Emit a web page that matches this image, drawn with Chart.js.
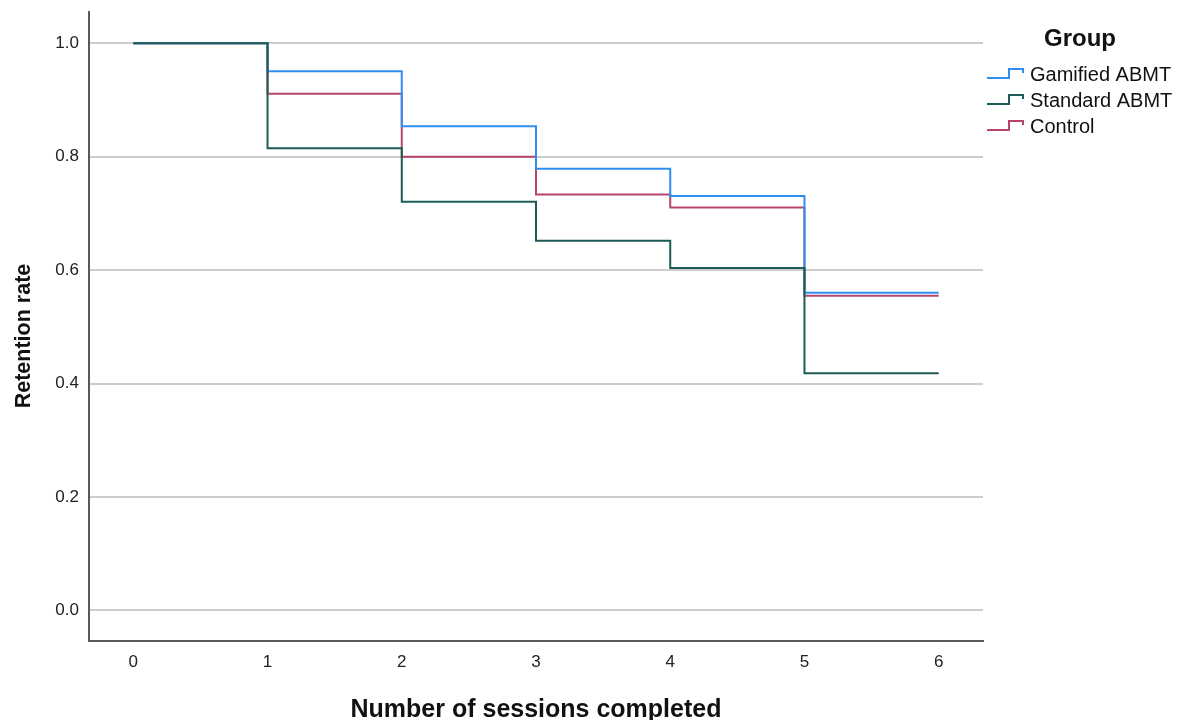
<!DOCTYPE html>
<html>
<head>
<meta charset="utf-8">
<script src="https://cdn.jsdelivr.net/npm/chart.js@4/dist/chart.umd.min.js"></script>
<style>
  html, body { margin: 0; padding: 0; background: #fff; }
  #wrap { width: 1179px; height: 720px; position: relative; }
</style>
</head>
<body>
<div id="wrap"><canvas id="c" width="1179" height="720"></canvas></div>
<script>
const sessions = [0, 1, 2, 3, 4, 5, 6];
const gamified = [1.0, 0.951, 0.854, 0.779, 0.731, 0.560, 0.560];
const standard = [1.0, 0.815, 0.7205, 0.652, 0.604, 0.418, 0.418];
const control  = [1.0, 0.911, 0.800, 0.7335, 0.7106, 0.555, 0.555];
const seriesNames = ['Gamified ABMT', 'Standard ABMT', 'Control'];
const seriesColors = ['#2f8ff0', '#1d5c55', '#b5456c'];
const yTicks = [0.0, 0.2, 0.4, 0.6, 0.8, 1.0];
const xTicks = [0, 1, 2, 3, 4, 5, 6];

const FONT = '"Liberation Sans", Arial, sans-serif';

function pts(arr) { return sessions.map((s, i) => ({ x: s, y: arr[i] })); }

const legendPlugin = {
  id: 'stepLegend',
  afterDraw(chart) {
    const ctx = chart.ctx;
    ctx.save();
    // y axis title
    ctx.save();
    ctx.translate(24, 336);
    ctx.rotate(-Math.PI / 2);
    ctx.fillStyle = '#111';
    ctx.font = 'bold 21.5px ' + FONT;
    ctx.textAlign = 'center';
    ctx.textBaseline = 'middle';
    ctx.fillText('Retention rate', 0, 0);
    ctx.restore();
    // legend
    ctx.fillStyle = '#111';
    ctx.font = 'bold 24px ' + FONT;
    ctx.textAlign = 'center';
    ctx.textBaseline = 'middle';
    ctx.fillText('Group', 1080, 39);
    ctx.font = '20px ' + FONT;
    ctx.textAlign = 'left';
    const rows = [74, 100, 126];
    seriesNames.forEach((n, i) => {
      const y = rows[i];
      ctx.strokeStyle = seriesColors[i];
      ctx.lineWidth = 2;
      ctx.beginPath();
      ctx.moveTo(987, y + 4);
      ctx.lineTo(1009, y + 4);
      ctx.lineTo(1009, y - 5);
      ctx.lineTo(1023, y - 5);
      ctx.lineTo(1023, y - 1);
      ctx.stroke();
      ctx.fillStyle = '#111';
      ctx.fillText(n, 1030, y + 1);
    });
    ctx.restore();
  }
};

new Chart(document.getElementById('c'), {
  type: 'line',
  data: {
    datasets: [
      { label: seriesNames[1], data: pts(standard), borderColor: seriesColors[1] },
      { label: seriesNames[0], data: pts(gamified), borderColor: seriesColors[0] },
      { label: seriesNames[2], data: pts(control), borderColor: seriesColors[2] }
    ].map(d => Object.assign(d, { stepped: 'before', borderWidth: 2, pointRadius: 0, fill: false }))
  },
  options: {
    responsive: false,
    animation: false,
    layout: { padding: { top: 12, right: 196, left: 0, bottom: 0 } },
    plugins: { legend: { display: false }, tooltip: { enabled: false } },
    scales: {
      x: {
        type: 'linear',
        min: -0.33, max: 6.33,
        afterFit(s) { s.height = 79; s.paddingLeft = 0; s.paddingRight = 0; },
        grid: { display: false, drawTicks: false },
        border: { display: true, color: '#595959', width: 2 },
        afterBuildTicks(s) { s.ticks = xTicks.map(v => ({ value: v })); },
        ticks: { padding: 11, color: '#222', font: { family: FONT, size: 17 }, callback: v => String(v) },
        title: { display: true, text: 'Number of sessions completed', color: '#111',
                 font: { family: FONT, size: 25, weight: 'bold', lineHeight: 0.8 }, padding: { top: 0, bottom: 0 } }
      },
      y: {
        type: 'linear',
        min: -0.054, max: 1.0553,
        afterFit(s) { s.width = 89; s.paddingTop = 0; s.paddingBottom = 0; },
        grid: { display: true, drawTicks: false, color: '#cdcdcd', lineWidth: 2 },
        border: { display: true, color: '#595959', width: 2 },
        afterBuildTicks(s) { s.ticks = yTicks.map(v => ({ value: v })); },
        ticks: { padding: 10, color: '#222', font: { family: FONT, size: 17 }, callback: v => Number(v).toFixed(1) },
        title: { display: false }
      }
    }
  },
  plugins: [legendPlugin]
});
</script>
</body>
</html>
